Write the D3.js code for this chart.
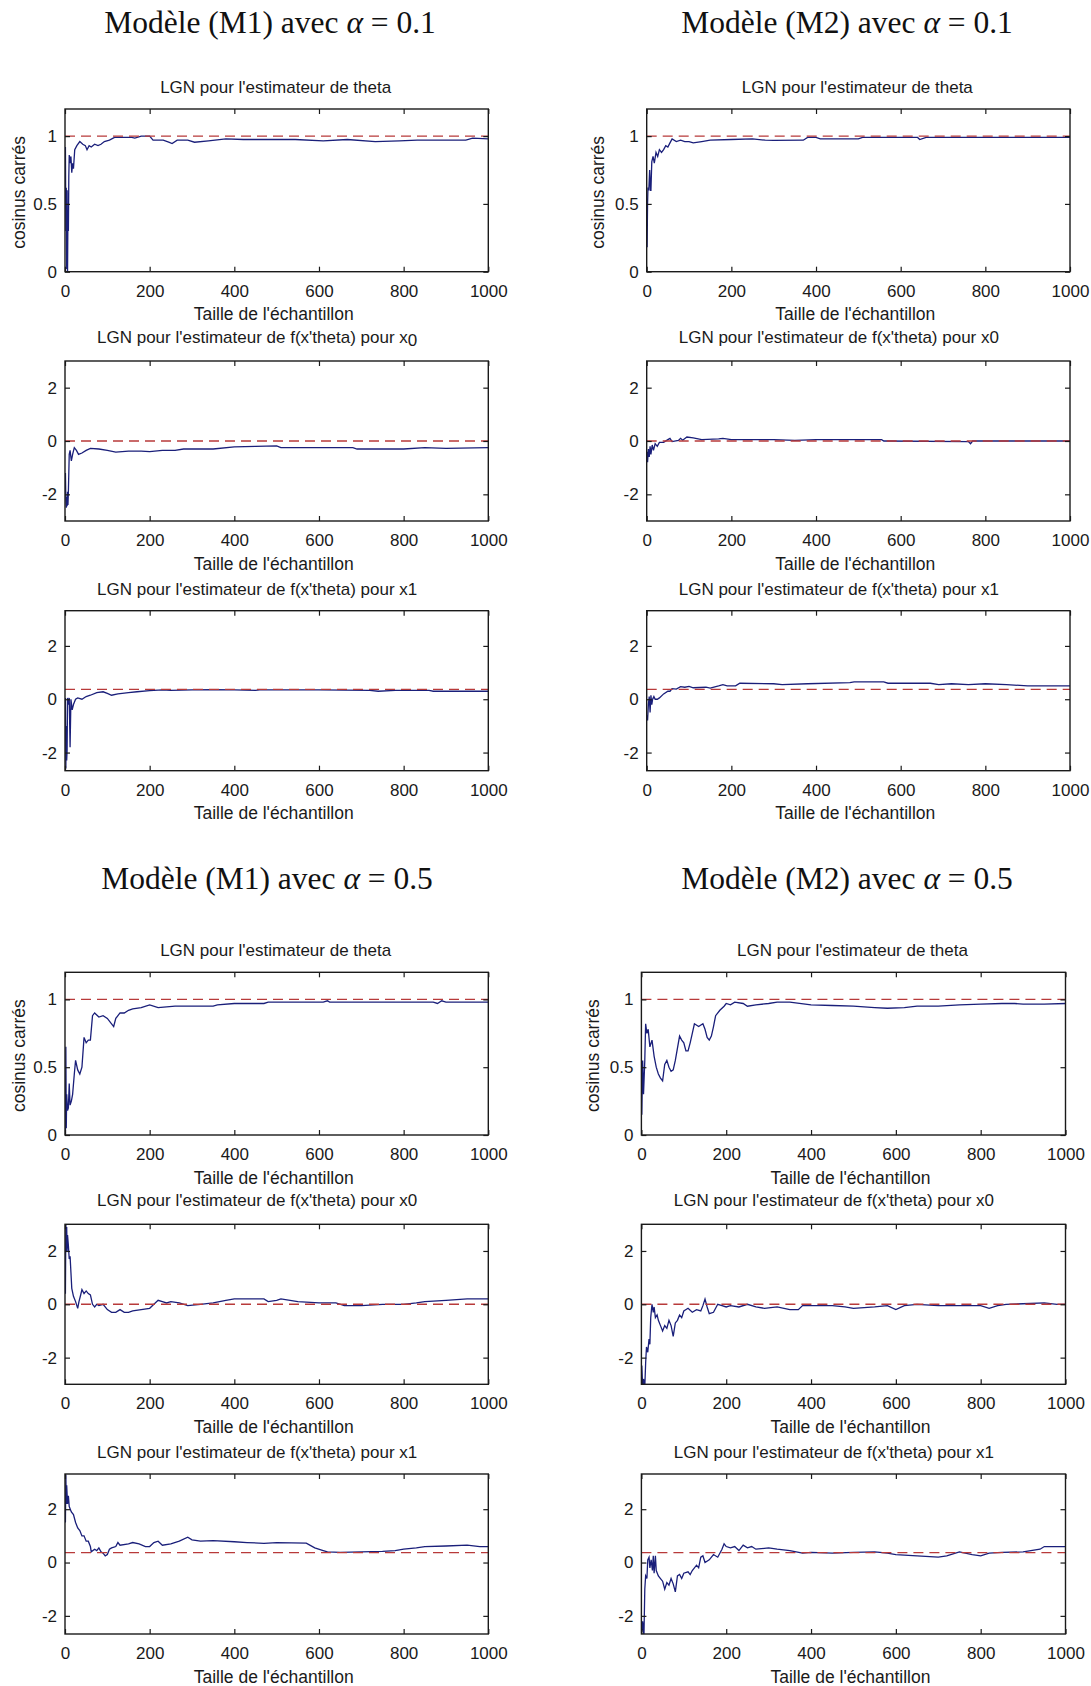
<!DOCTYPE html>
<html>
<head>
<meta charset="utf-8">
<script src="https://cdn.jsdelivr.net/npm/d3@7"></script>
<style>
  html, body { margin: 0; padding: 0; background: #fff; }
  svg { display: block; }
</style>
</head>
<body>
<script>
// ---------------- DATA ----------------
const xTicks = [0, 200, 400, 600, 800, 1000];
const thetaTicks = [0, 0.5, 1];
const fTicks = [-2, 0, 2];
const tickLabelTheta = ["0", "0.5", "1"];
const tickLabelF = ["-2", "0", "2"];

const bigTitles = [
  {model: "M1", alpha: "0.1"}, {model: "M2", alpha: "0.1"},
  {model: "M1", alpha: "0.5"}, {model: "M2", alpha: "0.5"}
];
const subTitles = ["LGN pour l'estimateur de theta",
                   "LGN pour l'estimateur de f(x'theta) pour x",
                   "LGN pour l'estimateur de f(x'theta) pour x"];
const subIdx = ["", "0", "1"];
const xLabel = "Taille de l'échantillon";
const yLabel = "cosinus carrés";

const refTheta = 1;
const refX0 = 0;
const refX1 = 0.37;

// Model M1, alpha = 0.1
const m1a01_theta = [[1,0.92],[2,0.3],[3,0.62],[4,0.02],[5,0.6],[6,0.0],[7,0.45],[8,0.3],[9,0.7],[10,0.86],[12,0.8],[14,0.85],[16,0.73],[18,0.8],[20,0.76],[23,0.9],[28,0.93],[35,0.96],[42,0.94],[48,0.93],[52,0.9],[57,0.93],[62,0.92],[70,0.94],[78,0.93],[85,0.94],[93,0.96],[105,0.97],[117,0.99],[140,0.99],[158,0.99],[165,0.985],[180,1.0],[200,1.0],[208,0.97],[232,0.97],[245,0.955],[253,0.945],[265,0.97],[290,0.97],[306,0.955],[339,0.965],[380,0.98],[421,0.975],[544,0.975],[610,0.965],[667,0.975],[733,0.96],[790,0.965],[832,0.97],[947,0.97],[963,0.985],[1000,0.98]];
const m1a01_x0 = [[1,-1.2],[2,-2.2],[3,-2.5],[4,-2.1],[5,-2.45],[6,-1.9],[7,-2.4],[8,-1.9],[10,-0.5],[12,-0.35],[15,-0.75],[18,-0.5],[22,-0.25],[27,-0.35],[32,-0.5],[40,-0.45],[50,-0.35],[60,-0.28],[80,-0.3],[100,-0.35],[120,-0.42],[150,-0.38],[180,-0.38],[200,-0.4],[230,-0.35],[260,-0.35],[280,-0.3],[350,-0.3],[400,-0.22],[450,-0.2],[500,-0.18],[510,-0.25],[600,-0.25],[680,-0.25],[690,-0.3],[800,-0.3],[850,-0.25],[900,-0.28],[1000,-0.25]];
const m1a01_x1 = [[1,0.05],[2,-2.6],[3,-1.0],[4,-2.3],[5,-1.9],[6,0.05],[8,-0.2],[10,0.05],[12,-1.8],[14,0.0],[17,-0.4],[20,-0.2],[25,0.0],[30,0.05],[40,0.0],[50,0.1],[60,0.15],[75,0.25],[90,0.28],[100,0.22],[110,0.15],[125,0.2],[150,0.25],[170,0.28],[200,0.32],[230,0.35],[250,0.33],[300,0.35],[350,0.36],[400,0.35],[450,0.33],[460,0.35],[600,0.35],[720,0.33],[740,0.3],[780,0.33],[860,0.33],[870,0.3],[950,0.3],[1000,0.3]];

// Model M2, alpha = 0.1
const m2a01_theta = [[1,0.18],[2,0.5],[3,0.62],[5,0.6],[7,0.75],[9,0.6],[10,0.6],[12,0.81],[15,0.85],[18,0.8],[22,0.88],[26,0.85],[30,0.9],[35,0.88],[40,0.9],[45,0.93],[50,0.92],[55,0.95],[60,0.98],[70,0.96],[80,0.97],[90,0.96],[100,0.96],[110,0.95],[130,0.96],[150,0.97],[200,0.975],[250,0.98],[280,0.97],[300,0.968],[370,0.97],[380,0.99],[400,0.99],[410,0.98],[500,0.98],[510,0.99],[640,0.99],[645,0.975],[660,0.99],[1000,0.99]];
const m2a01_x0 = [[1,-0.4],[2,-0.8],[4,-0.3],[6,-0.6],[8,-0.2],[10,-0.5],[13,-0.15],[16,-0.35],[20,-0.1],[25,-0.2],[30,-0.05],[40,-0.05],[50,0.05],[55,0.1],[60,-0.02],[75,0.02],[80,0.1],[85,0.03],[95,0.15],[110,0.12],[130,0.05],[170,0.08],[180,0.1],[200,0.05],[300,0.05],[350,0.02],[400,0.05],[450,0.05],[555,0.05],[560,0.0],[760,-0.02],[765,-0.1],[770,0.0],[1000,0.0]];
const m2a01_x1 = [[1,-0.6],[2,-0.8],[4,-0.2],[6,0.1],[8,-0.5],[10,0.15],[12,-0.2],[14,0.0],[17,0.1],[20,0.0],[25,0.0],[30,0.05],[40,0.2],[50,0.3],[55,0.3],[60,0.4],[70,0.38],[80,0.47],[90,0.45],[100,0.48],[110,0.43],[140,0.45],[150,0.42],[170,0.5],[180,0.55],[190,0.5],[210,0.5],[220,0.6],[300,0.58],[320,0.55],[380,0.58],[480,0.62],[490,0.65],[560,0.65],[570,0.6],[670,0.6],[690,0.55],[720,0.58],[760,0.55],[800,0.58],[850,0.55],[900,0.5],[950,0.5],[1000,0.5]];

// Model M1, alpha = 0.5
const m1a05_theta = [[1,0.0],[2,0.65],[3,0.05],[4,0.3],[6,0.18],[8,0.2],[10,0.38],[12,0.22],[15,0.25],[18,0.3],[22,0.45],[25,0.55],[30,0.48],[35,0.45],[40,0.5],[45,0.72],[50,0.68],[55,0.7],[60,0.7],[65,0.88],[70,0.9],[80,0.87],[90,0.88],[100,0.86],[110,0.82],[115,0.8],[120,0.86],[130,0.9],[140,0.9],[150,0.92],[160,0.93],[180,0.94],[200,0.96],[220,0.94],[260,0.95],[300,0.95],[350,0.95],[360,0.96],[400,0.97],[470,0.97],[480,0.98],[610,0.98],[620,0.99],[625,0.98],[870,0.98],[880,0.97],[890,0.99],[900,0.98],[1000,0.98]];
const m1a05_x0 = [[1,0.4],[2,3.0],[3,2.0],[4,2.9],[5,2.0],[6,2.6],[8,2.2],[10,1.7],[12,1.8],[14,1.2],[16,0.6],[20,0.3],[25,0.1],[28,-0.05],[30,-0.15],[33,0.1],[37,0.35],[40,0.55],[45,0.4],[50,0.5],[55,0.4],[60,0.35],[65,0.0],[70,-0.1],[75,0.0],[80,-0.05],[90,0.0],[100,-0.2],[110,-0.3],[120,-0.3],[130,-0.2],[140,-0.3],[150,-0.3],[160,-0.25],[180,-0.2],[200,-0.15],[210,0.0],[220,0.15],[230,0.1],[240,0.05],[250,0.1],[270,0.05],[290,-0.05],[320,0.0],[350,0.05],[380,0.15],[400,0.2],[470,0.2],[480,0.1],[500,0.15],[510,0.2],[550,0.1],[600,0.05],[640,0.05],[660,-0.05],[700,-0.05],[750,0.0],[800,0.0],[830,0.05],[850,0.1],[900,0.15],[950,0.2],[1000,0.2]];
const m1a05_x1 = [[1,1.5],[2,3.3],[3,2.2],[4,2.9],[6,2.2],[8,2.5],[10,2.1],[15,1.9],[20,1.8],[25,1.5],[30,1.3],[35,1.2],[40,1.0],[45,1.0],[50,0.8],[55,0.8],[60,0.6],[62,0.4],[70,0.5],[75,0.45],[80,0.55],[85,0.4],[90,0.35],[95,0.25],[100,0.3],[105,0.5],[110,0.55],[120,0.6],[125,0.75],[130,0.65],[150,0.7],[160,0.75],[175,0.7],[190,0.6],[200,0.6],[210,0.75],[220,0.8],[230,0.65],[250,0.7],[270,0.8],[290,0.95],[300,0.85],[320,0.8],[350,0.82],[400,0.78],[430,0.75],[470,0.72],[500,0.75],[570,0.73],[590,0.55],[610,0.45],[620,0.4],[650,0.38],[700,0.4],[750,0.42],[780,0.45],[800,0.5],[830,0.55],[850,0.6],[900,0.62],[950,0.65],[980,0.6],[1000,0.6]];

// Model M2, alpha = 0.5
const m2a05_theta = [[1,0.15],[3,0.55],[5,0.3],[8,0.55],[10,0.82],[13,0.75],[16,0.78],[20,0.65],[25,0.7],[30,0.58],[35,0.5],[40,0.45],[45,0.42],[50,0.4],[55,0.52],[60,0.55],[65,0.5],[70,0.47],[75,0.48],[80,0.55],[90,0.73],[95,0.7],[100,0.68],[105,0.62],[110,0.62],[115,0.68],[120,0.75],[125,0.82],[135,0.8],[145,0.82],[150,0.78],[155,0.72],[160,0.7],[165,0.73],[170,0.8],[175,0.88],[185,0.92],[195,0.95],[200,0.97],[210,0.96],[220,0.98],[240,0.97],[250,0.95],[270,0.96],[300,0.97],[320,0.98],[350,0.98],[400,0.96],[450,0.955],[500,0.95],[550,0.94],[580,0.935],[620,0.94],[650,0.95],[700,0.95],[750,0.96],[800,0.965],[850,0.97],[880,0.97],[900,0.965],[950,0.965],[1000,0.97]];
const m2a05_x0 = [[1,-2.3],[3,-3.1],[5,-2.8],[8,-3.1],[10,-2.2],[12,-1.6],[15,-1.8],[18,-1.3],[20,-1.5],[22,-0.5],[25,0.0],[28,-0.3],[30,-0.1],[33,-0.5],[37,-0.4],[40,-0.6],[45,-0.8],[50,-1.0],[55,-0.8],[60,-0.9],[65,-0.6],[70,-0.8],[75,-1.2],[80,-0.7],[85,-0.6],[90,-0.4],[95,-0.5],[100,-0.25],[110,-0.15],[120,-0.3],[130,-0.2],[140,-0.25],[145,-0.05],[150,0.2],[155,-0.1],[160,-0.35],[170,-0.3],[180,0.0],[190,-0.05],[200,-0.1],[210,-0.05],[230,-0.1],[250,0.0],[270,-0.1],[290,-0.15],[320,-0.1],[350,-0.2],[370,-0.2],[380,-0.05],[450,-0.05],[480,-0.1],[500,-0.15],[550,-0.1],[580,-0.05],[600,-0.2],[620,-0.05],[650,0.0],[700,-0.05],[800,-0.05],[820,-0.15],[840,-0.05],[860,0.0],[900,0.02],[950,0.05],[980,0.0],[1000,0.0]];
const m2a05_x1 = [[1,-2.6],[3,-2.2],[6,-2.75],[8,-1.0],[10,-0.5],[13,-0.6],[15,0.1],[18,0.2],[20,-0.2],[23,0.1],[26,-0.3],[28,0.25],[30,-0.4],[33,0.25],[35,-0.3],[40,-0.5],[45,-0.6],[50,-0.7],[55,-1.0],[60,-0.75],[65,-0.85],[70,-0.6],[75,-0.8],[80,-1.1],[85,-0.5],[90,-0.45],[95,-0.6],[100,-0.4],[110,-0.35],[115,-0.45],[120,-0.3],[130,-0.1],[135,-0.2],[140,0.2],[145,0.25],[150,0.0],[160,0.1],[170,0.3],[180,0.2],[190,0.5],[195,0.7],[200,0.6],[210,0.55],[220,0.6],[230,0.45],[240,0.65],[250,0.55],[260,0.6],[270,0.5],[300,0.55],[320,0.5],[350,0.45],[380,0.35],[400,0.38],[450,0.35],[500,0.38],[550,0.4],[580,0.35],[600,0.3],[650,0.25],[700,0.2],[720,0.25],[750,0.4],[780,0.3],[800,0.25],[820,0.35],[850,0.38],[900,0.4],[940,0.5],[950,0.6],[1000,0.6]];

// ---------------- LAYOUT ----------------
const W = 1091, H = 1686;
const svg = d3.select("body").append("svg").attr("width", W).attr("height", H);

const sans = "'Liberation Sans', Arial, Helvetica, sans-serif";
const serif = "'Liberation Serif', 'Times New Roman', serif";
const blue = "#1a1f7a";
const red = "#b83a3a";
const ink = "#1a1a1a";

const halves = [
  {dy: 0,     titleY: 33,  cols: [[65, 488.3], [646.7, 1070]],   titleX: [270, 847], ylabX: [24.5, 604]},
  {dy: 863.3, titleY: 889, cols: [[65, 488.3], [641.4, 1065.5]], titleX: [267, 847], ylabX: [24.5, 599]}
];
const rows = [[109, 271.7], [361, 521], [610.7, 770.7]];
const domains = [[0, 1.2], [-3, 3], [-2.68, 3.32]];

const seriesGrid = [
  [[m1a01_theta, m1a01_x0, m1a01_x1], [m2a01_theta, m2a01_x0, m2a01_x1]],
  [[m1a05_theta, m1a05_x0, m1a05_x1], [m2a05_theta, m2a05_x0, m2a05_x1]]
];
const refs = [refTheta, refX0, refX1];

let clipId = 0;
halves.forEach((h, hi) => {
  [0, 1].forEach(ci => {
    const bt = bigTitles[hi * 2 + ci];
    const t = svg.append("text")
      .attr("x", h.titleX[ci]).attr("y", h.titleY)
      .attr("text-anchor", "middle")
      .attr("font-family", serif).attr("font-size", 31.5).attr("fill", "#111");
    t.append("tspan").text("Modèle (" + bt.model + ") avec ");
    t.append("tspan").attr("font-style", "italic").text("α");
    t.append("tspan").text(" = " + bt.alpha);

    const [x0, x1] = h.cols[ci];
    rows.forEach((r, ri) => {
      const y0 = r[0] + h.dy, y1 = r[1] + h.dy;
      const xs = d3.scaleLinear().domain([0, 1000]).range([x0, x1]);
      const ys = d3.scaleLinear().domain(domains[ri]).range([y1, y0]);
      const g = svg.append("g");
      const id = "clip" + (clipId++);
      g.append("clipPath").attr("id", id).append("rect")
        .attr("x", x0).attr("y", y0).attr("width", x1 - x0).attr("height", y1 - y0);

      const data = seriesGrid[hi][ci][ri];
      const line = d3.line().x(d => xs(d[0])).y(d => ys(d[1]));
      g.append("path").datum(data).attr("d", line)
        .attr("fill", "none").attr("stroke", blue).attr("stroke-width", 1.3)
        .attr("clip-path", `url(#${id})`);
      g.append("line")
        .attr("x1", xs(0)).attr("x2", xs(1000))
        .attr("y1", ys(refs[ri])).attr("y2", ys(refs[ri]))
        .attr("stroke", red).attr("stroke-width", 1.4).attr("stroke-dasharray", "10,6");

      // axes: MATLAB-style inner ticks on all four sides
      const yt = ri === 0 ? thetaTicks : fTicks;
      const ytl = ri === 0 ? tickLabelTheta : tickLabelF;
      const tl = 5;
      const axB = d3.axisBottom(xs).tickValues(xTicks).tickSize(-tl).tickPadding(13).tickFormat(d3.format("d"));
      const axT = d3.axisTop(xs).tickValues(xTicks).tickSize(-tl).tickFormat("");
      const axL = d3.axisLeft(ys).tickValues(yt).tickSize(-tl).tickPadding(8).tickFormat((d, i) => ytl[i]);
      const axR = d3.axisRight(ys).tickValues(yt).tickSize(-tl).tickFormat("");
      [[axB, `translate(0,${y1})`], [axT, `translate(0,${y0})`], [axL, `translate(${x0},0)`], [axR, `translate(${x1},0)`]]
        .forEach(([ax, tr]) => {
          const ag = g.append("g").attr("transform", tr).call(ax);
          ag.select(".domain").remove();
          ag.selectAll("line").attr("stroke", ink).attr("stroke-width", 1.2);
          ag.selectAll("text").attr("font-family", sans).attr("font-size", 17).attr("fill", ink);
        });
      g.append("rect").attr("x", x0).attr("y", y0).attr("width", x1 - x0).attr("height", y1 - y0)
        .attr("fill", "none").attr("stroke", ink).attr("stroke-width", 1.4);

      // subplot title
      const cx = (x0 + x1) / 2;
      const st = g.append("text").attr("x", ri === 0 ? cx - 1 : cx - 19.5).attr("y", y0 - (ri === 1 ? 18 : 16))
        .attr("text-anchor", "middle").attr("font-family", sans).attr("font-size", 17).attr("fill", ink);
      st.append("tspan").text(subTitles[ri]);
      if (ri > 0) {
        const sub = st.append("tspan").text(subIdx[ri]);
        if (hi === 0 && ci === 0 && ri === 1) sub.attr("dy", 3);
      }
      // x label
      g.append("text").attr("x", cx - 3).attr("y", y1 + 48.5).attr("text-anchor", "middle")
        .attr("font-family", sans).attr("font-size", 17.5).attr("fill", ink).text(xLabel);
      // y label for theta panels
      if (ri === 0) {
        g.append("text").attr("transform", `translate(${h.ylabX[ci]},${(y0 + y1) / 2 + 2}) rotate(-90)`)
          .attr("text-anchor", "middle").attr("font-family", sans).attr("font-size", 17.5).attr("fill", ink)
          .text(yLabel);
      }
    });
  });
});
</script>
</body>
</html>
